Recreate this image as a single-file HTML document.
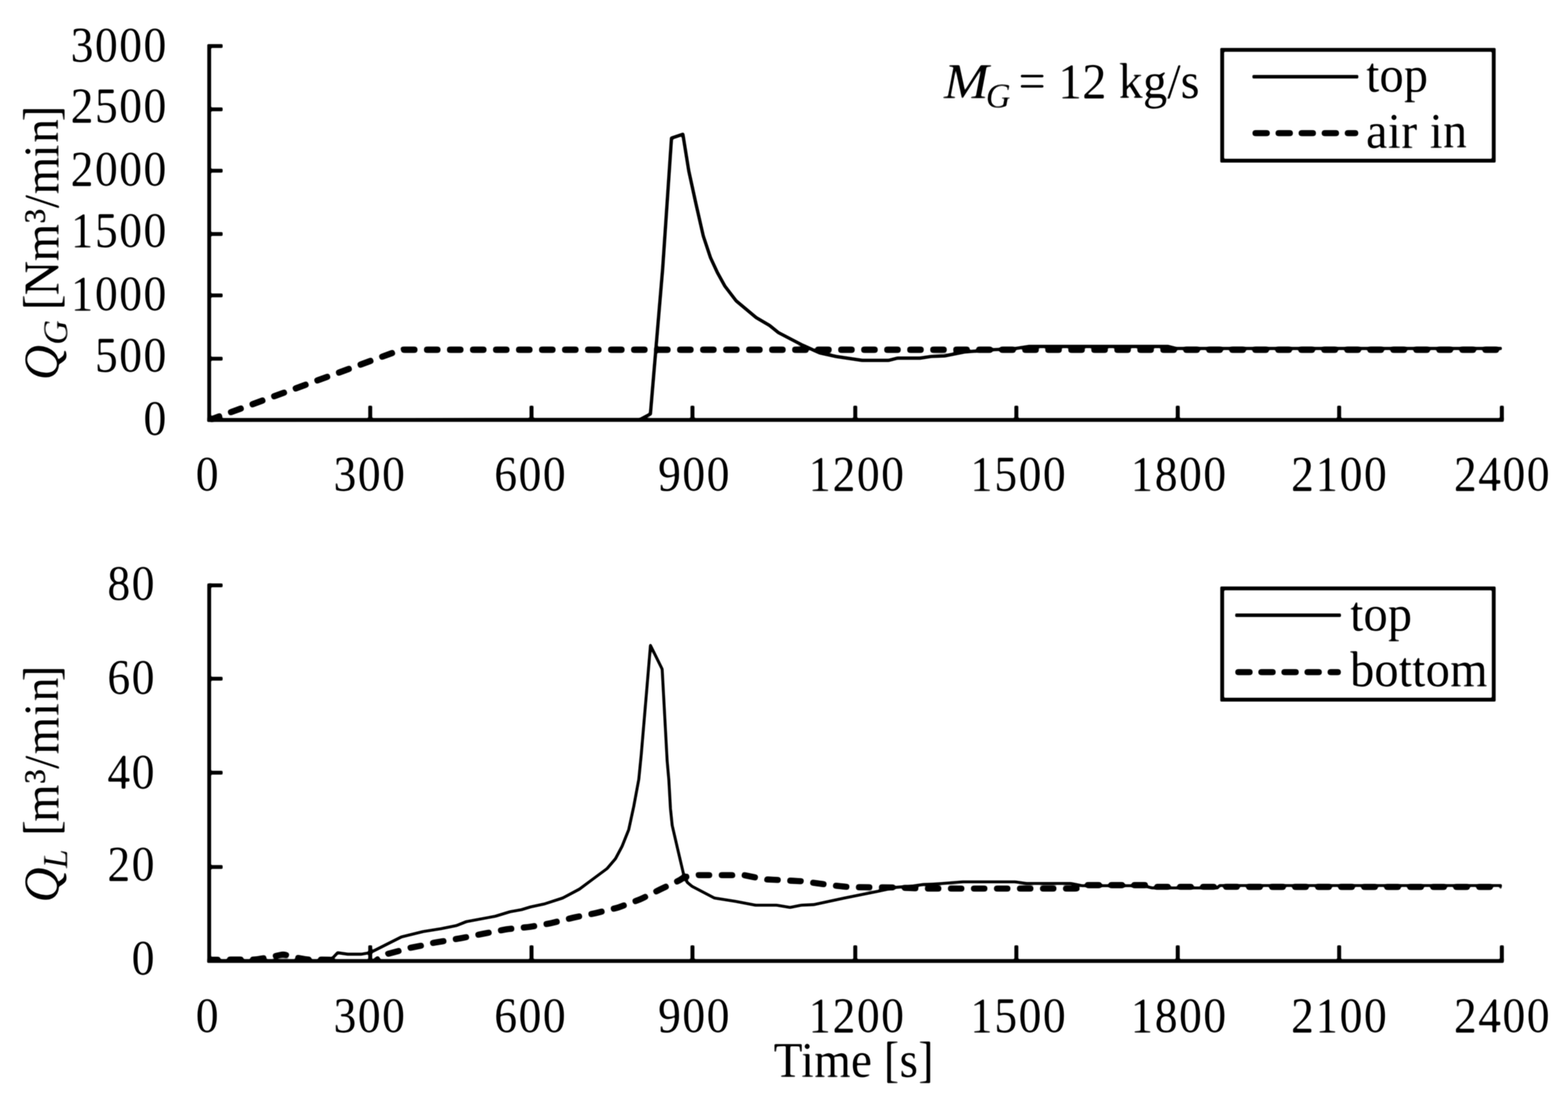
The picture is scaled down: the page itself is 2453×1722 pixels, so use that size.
<!DOCTYPE html>
<html lang="en"><head><meta charset="utf-8"><title>Gas and liquid flow rates</title>
<style>
html,body{margin:0;padding:0;background:#fff;}
body{width:2453px;height:1722px;overflow:hidden;}
svg{display:block;}
text{font-family:"Liberation Serif", "DejaVu Serif", serif;font-size:76px;fill:#000;}
.ax{stroke:#000;fill:none;stroke-linecap:butt;}
.it{font-style:italic;}
</style></head><body>
<svg width="2453" height="1722" viewBox="0 0 2453 1722">
<defs><filter id="soft" x="0" y="0" width="2453" height="1722" filterUnits="userSpaceOnUse" color-interpolation-filters="sRGB"><feGaussianBlur stdDeviation="1.0"/><feComponentTransfer><feFuncR type="linear" slope="1.5" intercept="-0.25"/><feFuncG type="linear" slope="1.5" intercept="-0.25"/><feFuncB type="linear" slope="1.5" intercept="-0.25"/></feComponentTransfer></filter><filter id="pill" x="0" y="0" width="2453" height="1722" filterUnits="userSpaceOnUse"><feGaussianBlur stdDeviation="2.1"/><feComponentTransfer><feFuncA type="linear" slope="4" intercept="-1.5"/></feComponentTransfer></filter></defs>
<g filter="url(#soft)">
<rect x="-10" y="-10" width="2473" height="1742" fill="#ffffff"/>
<g id="plot-top">
<g>
<polyline points="327.5,657.0 1001.5,656.0 1017.5,647.5 1036.7,420.0 1050.5,216.0 1068.3,210.0 1077.5,267.1 1088.9,319.4 1100.2,369.0 1111.5,403.0 1122.0,425.7 1134.0,447.5 1151.6,470.5 1183.0,496.7 1203.9,508.9 1217.8,520.2 1256.2,540.2 1282.3,551.9 1308.4,557.6 1348.8,563.6 1390.6,563.6 1404.5,560.1 1439.4,560.1 1456.8,557.5 1477.7,556.6 1509.0,550.5 1552.6,547.0 1587.5,545.3 1610.0,541.8 1827.0,541.8 1839.4,545.0 2349.5,545.0" fill="none" stroke="#000" stroke-width="5.2" stroke-linejoin="round" stroke-linecap="butt"/>
<g filter="url(#pill)">
<polyline points="327.5,657.0 627.5,547.0 2349.5,547.0" fill="none" stroke="#000" stroke-width="9.8" stroke-dasharray="26.0 10.0" stroke-dashoffset="4.8" stroke-linejoin="round" stroke-linecap="butt"/>
</g>
</g>
<path class="ax" stroke-width="6.0" d="M327.3 69.0V659.7"/>
<path class="ax" stroke-width="6.0" d="M324.3 656.7H2352.5"/>
<path class="ax" stroke-width="6.0" d="M327.3 72.0h21M327.3 171.0h21M327.3 267.0h21M327.3 366.0h21M327.3 462.0h21M327.3 561.0h21"/>
<path class="ax" stroke-width="6.2" d="M579.2 656.7v-22.2M831.5 656.7v-22.2M1083.3 656.7v-22.2M1338.0 656.7v-22.2M1590.0 656.7v-22.2M1842.5 656.7v-22.2M2095.0 656.7v-22.2M2349.5 656.7v-22.2"/>
<text transform="translate(262.5 95.6) scale(0.94 1.03)" letter-spacing="2.43" text-anchor="end">3000</text>
<text transform="translate(262.5 191.4) scale(0.94 1.03)" letter-spacing="2.43" text-anchor="end">2500</text>
<text transform="translate(262.5 290.0) scale(0.94 1.03)" letter-spacing="2.43" text-anchor="end">2000</text>
<text transform="translate(262.5 386.0) scale(0.94 1.03)" letter-spacing="2.43" text-anchor="end">1500</text>
<text transform="translate(262.5 485.2) scale(0.94 1.03)" letter-spacing="2.43" text-anchor="end">1000</text>
<text transform="translate(262.5 581.0) scale(0.94 1.03)" letter-spacing="2.43" text-anchor="end">500</text>
<text transform="translate(262.5 679.8) scale(0.94 1.03)" letter-spacing="2.43" text-anchor="end">0</text>
<text transform="translate(325.2 767.3) scale(0.94 1.03)" letter-spacing="2.43" text-anchor="middle">0</text>
<text transform="translate(578.7 767.3) scale(0.94 1.03)" letter-spacing="2.43" text-anchor="middle">300</text>
<text transform="translate(830.2 767.3) scale(0.94 1.03)" letter-spacing="2.43" text-anchor="middle">600</text>
<text transform="translate(1086.5 767.3) scale(0.94 1.03)" letter-spacing="2.43" text-anchor="middle">900</text>
<text transform="translate(1340.6 767.3) scale(0.94 1.03)" letter-spacing="2.43" text-anchor="middle">1200</text>
<text transform="translate(1593.4 767.3) scale(0.94 1.03)" letter-spacing="2.43" text-anchor="middle">1500</text>
<text transform="translate(1844.4 767.3) scale(0.94 1.03)" letter-spacing="2.43" text-anchor="middle">1800</text>
<text transform="translate(2095.7 767.3) scale(0.94 1.03)" letter-spacing="2.43" text-anchor="middle">2100</text>
<text transform="translate(2350.5 767.3) scale(0.94 1.03)" letter-spacing="2.43" text-anchor="middle">2400</text>
</g>
<g id="plot-bottom">
<clipPath id="clip-plot-bottom"><rect x="323.3" y="855.5" width="2034.2" height="650.5"/></clipPath>
<g clip-path="url(#clip-plot-bottom)">
<polyline points="327.5,1503.0 516.0,1503.0 528.2,1490.1 543.9,1492.4 564.8,1492.4 578.8,1490.1 627.5,1465.6 662.0,1457.0 690.0,1452.6 713.5,1447.8 729.5,1441.5 775.0,1433.0 797.9,1426.0 815.9,1422.8 829.8,1418.5 850.7,1414.1 880.4,1404.5 906.5,1390.6 926.1,1376.0 949.7,1358.5 962.7,1343.3 973.2,1323.7 983.6,1297.6 991.5,1261.0 999.3,1219.2 1003.2,1180.0 1012.4,1071.5 1017.6,1009.4 1035.9,1046.6 1043.7,1190.0 1046.3,1219.2 1048.9,1264.9 1051.6,1291.1 1060.7,1330.3 1069.9,1369.5 1075.1,1379.9 1082.6,1386.2 1117.5,1404.5 1150.6,1409.7 1182.0,1415.8 1215.0,1415.8 1236.0,1419.3 1253.4,1415.8 1272.5,1414.9 1321.3,1404.5 1373.6,1394.0 1401.5,1387.9 1429.3,1385.5 1445.0,1383.4 1460.0,1382.7 1474.8,1381.8 1506.2,1379.2 1588.0,1379.2 1605.5,1381.8 1675.2,1381.8 1692.6,1385.3 1788.4,1385.3 1802.4,1388.8 1904.5,1388.8 1908.0,1385.0 2349.5,1385.0" fill="none" stroke="#000" stroke-width="4.6" stroke-linejoin="round" stroke-linecap="butt"/>
<g filter="url(#pill)">
<polyline points="327.5,1501.0 400.0,1500.8 425.0,1496.5 443.0,1492.6 460.0,1497.0 480.0,1500.8 518.0,1501.0 526.0,1507.0" fill="none" stroke="#000" stroke-width="9.6" stroke-dasharray="26.0 10.0" stroke-dashoffset="8.3" stroke-linejoin="round" stroke-linecap="butt"/>
<polyline points="584.0,1506.0 592.0,1499.5 605.0,1492.4 627.5,1486.3 640.0,1482.8 662.4,1478.4 680.0,1474.2 721.8,1467.3 756.7,1460.3 793.2,1453.3 828.1,1449.8 862.9,1443.7 897.8,1435.0 932.6,1428.0 967.5,1419.3 1002.3,1406.3 1033.7,1390.6 1063.3,1376.7 1070.0,1372.0 1090.0,1368.7 1150.0,1368.7 1160.0,1368.0 1185.0,1373.0 1196.0,1375.2 1257.0,1378.5 1267.0,1380.0 1305.0,1385.0 1330.0,1387.6 1400.0,1388.0 1440.0,1389.7 1684.0,1389.7 1698.0,1384.4 1797.0,1384.4 1806.0,1387.0 2349.5,1387.3" fill="none" stroke="#000" stroke-width="9.6" stroke-dasharray="26.0 10.0" stroke-dashoffset="13.0" stroke-linejoin="round" stroke-linecap="butt"/>
</g>
</g>
<path class="ax" stroke-width="6.0" d="M327.3 912.5V1506.0"/>
<path class="ax" stroke-width="6.0" d="M324.3 1503.0H2352.5"/>
<path class="ax" stroke-width="6.0" d="M327.3 915.5h21M327.3 1061.5h21M327.3 1208.5h21M327.3 1356.0h21"/>
<path class="ax" stroke-width="6.2" d="M579.2 1503.0v-24.5M831.5 1503.0v-24.5M1083.3 1503.0v-24.5M1338.0 1503.0v-24.5M1590.0 1503.0v-24.5M1842.5 1503.0v-24.5M2095.0 1503.0v-24.5M2349.5 1503.0v-24.5"/>
<text transform="translate(244.1 937.6) scale(0.94 1.03)" letter-spacing="2.43" text-anchor="end">80</text>
<text transform="translate(244.1 1085.2) scale(0.94 1.03)" letter-spacing="2.43" text-anchor="end">60</text>
<text transform="translate(244.1 1233.0) scale(0.94 1.03)" letter-spacing="2.43" text-anchor="end">40</text>
<text transform="translate(244.1 1376.8) scale(0.94 1.03)" letter-spacing="2.43" text-anchor="end">20</text>
<text transform="translate(244.1 1523.6) scale(0.94 1.03)" letter-spacing="2.43" text-anchor="end">0</text>
<text transform="translate(325.2 1614.3) scale(0.94 1.03)" letter-spacing="2.43" text-anchor="middle">0</text>
<text transform="translate(578.7 1614.3) scale(0.94 1.03)" letter-spacing="2.43" text-anchor="middle">300</text>
<text transform="translate(830.2 1614.3) scale(0.94 1.03)" letter-spacing="2.43" text-anchor="middle">600</text>
<text transform="translate(1086.5 1614.3) scale(0.94 1.03)" letter-spacing="2.43" text-anchor="middle">900</text>
<text transform="translate(1340.6 1614.3) scale(0.94 1.03)" letter-spacing="2.43" text-anchor="middle">1200</text>
<text transform="translate(1593.4 1614.3) scale(0.94 1.03)" letter-spacing="2.43" text-anchor="middle">1500</text>
<text transform="translate(1844.4 1614.3) scale(0.94 1.03)" letter-spacing="2.43" text-anchor="middle">1800</text>
<text transform="translate(2095.7 1614.3) scale(0.94 1.03)" letter-spacing="2.43" text-anchor="middle">2100</text>
<text transform="translate(2350.5 1614.3) scale(0.94 1.03)" letter-spacing="2.43" text-anchor="middle">2400</text>
</g>
<text transform="translate(90.5 594.5) rotate(-90) scale(1 1.03)"><tspan class="it" dx="0">Q</tspan><tspan class="it" font-size="54" dx="0.5" dy="14.5">G</tspan><tspan dx="0 -4.2 -2.4 -1.4 0.5 0.8 0.3 -1.4 1.7 -4.6" dy="-14.5" letter-spacing="0.0"> [Nm³/min]</tspan></text>
<text transform="translate(90.5 1412.5) rotate(-90) scale(1 1.03)"><tspan class="it" dx="1">Q</tspan><tspan class="it" font-size="54" dx="-1.5" dy="14.5">L</tspan><tspan dx="0 1.1 -3.9 0.6 -0.2 0.9 0.5 1.5 -7.3" dy="-14.5" letter-spacing="0.4"> [m³/min]</tspan></text>
<text transform="translate(1335.5 1684.0) scale(0.975 1.03)" text-anchor="middle">Time [s]</text>
<text transform="translate(1476.3 152.6) scale(1.12 1.03)" class="it">M</text>
<text transform="translate(1542.2 168.0) scale(1 1.03)" class="it" style="font-size:54px">G</text>
<text transform="translate(1593.2 152.6) scale(1 1.03)">= 12 kg/s</text>
<rect x="1912" y="78" width="424.8" height="173.3" fill="#fff" stroke="#000" stroke-width="6"/>
<path d="M1959.3 120.0H2125.0" stroke="#000" stroke-width="5.4" stroke-linecap="butt" fill="none"/>
<path d="M1959.3 208.3H2125.0" stroke="#000" stroke-width="9.6" stroke-dasharray="27.3 8.8" stroke-linejoin="round" fill="none" filter="url(#pill)"/>
<text transform="translate(2137.0 143.2) scale(1 1.03)">top</text>
<text transform="translate(2137.0 231.0) scale(1 1.03)">air in</text>
<rect x="1912" y="920.3" width="424.8" height="174.0" fill="#fff" stroke="#000" stroke-width="6"/>
<path d="M1932.4 962.2H2097.8" stroke="#000" stroke-width="5.4" stroke-linecap="butt" fill="none"/>
<path d="M1932.4 1051.3H2097.8" stroke="#000" stroke-width="9.6" stroke-dasharray="27.3 8.8" stroke-linejoin="round" fill="none" filter="url(#pill)"/>
<text transform="translate(2112.0 986.4) scale(1 1.03)">top</text>
<text transform="translate(2112.0 1073.1) scale(1 1.03)">bottom</text>
</g>
</svg></body></html>
